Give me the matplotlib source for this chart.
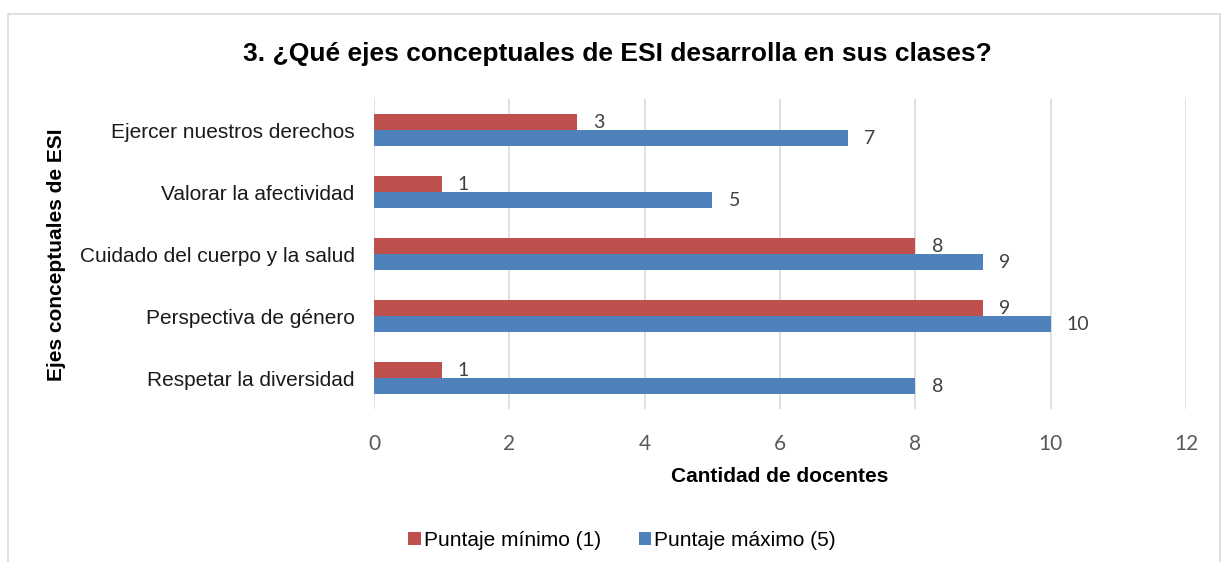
import numpy as np
import matplotlib.pyplot as plt
from matplotlib.patches import Rectangle

categorias = ['Ejercer nuestros derechos', 'Valorar la afectividad',
              'Cuidado del cuerpo y la salud', 'Perspectiva de género',
              'Respetar la diversidad']
minimo = [3, 1, 8, 9, 1]
maximo = [7, 5, 9, 10, 8]
xticks = [0, 2, 4, 6, 8, 10, 12]

RED = '#C0504D'
BLUE = '#4F81BD'
NUM_FONT = ['Lato', 'DejaVu Sans']
plt.rcParams['font.family'] = ['Liberation Sans', 'DejaVu Sans']

fig = plt.figure(figsize=(12.24, 5.62), dpi=100)
# chart border
fig.patches.append(Rectangle((8 / 1224, -0.01), 1212 / 1224, 1 - 14 / 562 + 0.01,
                             transform=fig.transFigure, fill=False,
                             edgecolor='#d9d9d9', linewidth=1.2))

ax = fig.add_axes([374 / 1224, 1 - 409 / 562, 812 / 1224, 310 / 562])
y = np.arange(len(categorias))
h = 0.26
ax.barh(y - h / 2, minimo, height=h, color=RED, label='Puntaje mínimo (1)', zorder=3)
ax.barh(y + h / 2, maximo, height=h, color=BLUE, label='Puntaje máximo (5)', zorder=3)

for i in range(len(categorias)):
    ax.text(minimo[i] + 0.24, y[i] - h / 2 + 0.01, str(minimo[i]), va='center', ha='left',
            fontsize=14, color='#404040', family=NUM_FONT)
    ax.text(maximo[i] + 0.24, y[i] + h / 2 + 0.01, str(maximo[i]), va='center', ha='left',
            fontsize=14, color='#404040', family=NUM_FONT)

ax.set_ylim(len(categorias) - 0.5, -0.5)
ax.set_xlim(0, 12)
ax.set_xticks(xticks)
ax.set_yticks(y)
ax.set_yticklabels(categorias, fontsize=15, color='#1a1a1a')
for lbl in ax.get_xticklabels():
    lbl.set_family(NUM_FONT)
ax.tick_params(axis='x', labelsize=15, colors='#595959', length=0, pad=18)
ax.tick_params(axis='y', length=0, pad=14)
ax.grid(axis='x', color='#d9d9d9', linewidth=1.2, zorder=0)
for s in ax.spines.values():
    s.set_visible(False)

ax.set_xlabel('Cantidad de docentes', fontsize=15, fontweight='bold', labelpad=9)
fig.text(57 / 1224, 1 - 255 / 562, 'Ejes conceptuales de ESI', rotation=90,
         fontsize=15, fontweight='bold', ha='center', va='center')
fig.text(617 / 1224, 1 - 54 / 562, '3. ¿Qué ejes conceptuales de ESI desarrolla en sus clases?',
         fontsize=19, fontweight='bold', ha='center', va='center')

fig.legend(loc='center', bbox_to_anchor=(622 / 1224, 1 - 540 / 562), ncol=2,
           frameon=False, fontsize=15, handlelength=0.6, handleheight=0.6,
           handletextpad=0.15, columnspacing=1.8)

fig.savefig('out.png', dpi=100)
